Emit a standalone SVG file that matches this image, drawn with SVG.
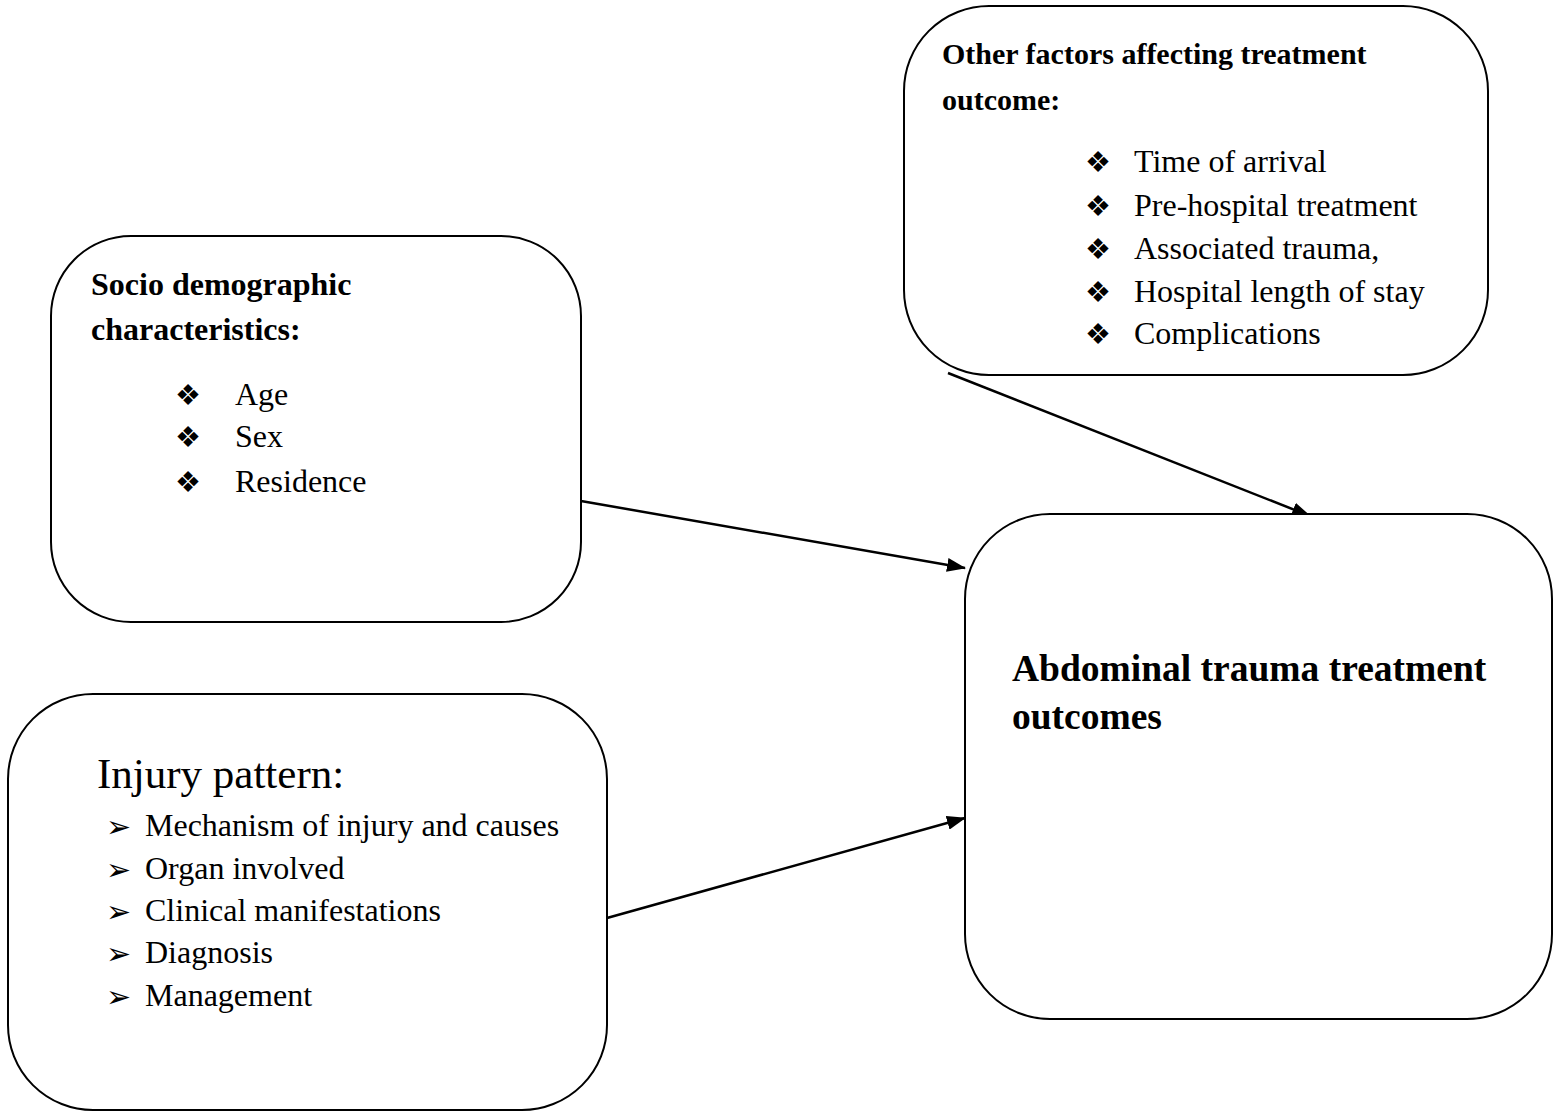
<svg xmlns="http://www.w3.org/2000/svg" width="1558" height="1115" viewBox="0 0 1558 1115">
<style>
.box{fill:#fff;stroke:#000;stroke-width:2}
.t{font-family:"Liberation Serif","Times New Roman",serif;font-size:32px;fill:#000}
.b{font-weight:bold}
.bul{font-family:"DejaVu Sans",sans-serif;font-size:29px;fill:#000}
.arr{font-family:"DejaVu Sans",sans-serif;font-size:30px;fill:#000}
.conn{stroke:#000;stroke-width:2.5;fill:none}
</style>
<defs>
<marker id="ah" markerWidth="20" markerHeight="14" refX="18" refY="7" orient="auto" markerUnits="userSpaceOnUse" viewBox="0 0 20 14">
<path d="M0,0 L19,7 L0,14 z" fill="#000"/>
</marker>
</defs>
<rect width="1558" height="1115" fill="#fff"/>
<g id="connectors">
<line class="conn" x1="948" y1="373" x2="1310" y2="516" marker-end="url(#ah)"/>
<line class="conn" x1="581" y1="501" x2="965" y2="568" marker-end="url(#ah)"/>
<line class="conn" x1="607" y1="918" x2="965" y2="818" marker-end="url(#ah)"/>
</g>
<g id="other-factors">
<rect class="box" x="904" y="6" width="584" height="369" rx="85" ry="85"/>
<text class="t b" x="942" y="64" style="font-size:30px">Other factors affecting treatment</text>
<text class="t b" x="942" y="110" style="font-size:30px">outcome:</text>
<text class="bul" x="1085" y="172">❖</text><text class="t" x="1134" y="172">Time of arrival</text>
<text class="bul" x="1085" y="216">❖</text><text class="t" x="1134" y="216">Pre-hospital treatment</text>
<text class="bul" x="1085" y="259">❖</text><text class="t" x="1134" y="259">Associated trauma,</text>
<text class="bul" x="1085" y="302">❖</text><text class="t" x="1134" y="302">Hospital length of stay</text>
<text class="bul" x="1085" y="344">❖</text><text class="t" x="1134" y="344">Complications</text>
</g>
<g id="socio">
<rect class="box" x="51" y="236" width="530" height="386" rx="80" ry="80"/>
<text class="t b" x="91" y="295">Socio demographic</text>
<text class="t b" x="91" y="340">characteristics:</text>
<text class="bul" x="175" y="405">❖</text><text class="t" x="235" y="405">Age</text>
<text class="bul" x="175" y="447">❖</text><text class="t" x="235" y="447">Sex</text>
<text class="bul" x="175" y="492">❖</text><text class="t" x="235" y="492">Residence</text>
</g>
<g id="injury">
<rect class="box" x="8" y="694" width="599" height="416" rx="85" ry="85"/>
<text class="t" x="97" y="788" style="font-size:43px">Injury pattern:</text>
<text class="arr" x="106" y="837">➢</text><text class="t" x="145" y="836">Mechanism of injury and causes</text>
<text class="arr" x="106" y="880">➢</text><text class="t" x="145" y="879">Organ involved</text>
<text class="arr" x="106" y="922">➢</text><text class="t" x="145" y="921">Clinical manifestations</text>
<text class="arr" x="106" y="964">➢</text><text class="t" x="145" y="963">Diagnosis</text>
<text class="arr" x="106" y="1007">➢</text><text class="t" x="145" y="1006">Management</text>
</g>
<g id="outcomes">
<rect class="box" x="965" y="514" width="587" height="505" rx="85" ry="85"/>
<text class="t b" x="1012" y="681" style="font-size:37.5px">Abdominal trauma treatment</text>
<text class="t b" x="1012" y="729" style="font-size:37.5px">outcomes</text>
</g>
</svg>
